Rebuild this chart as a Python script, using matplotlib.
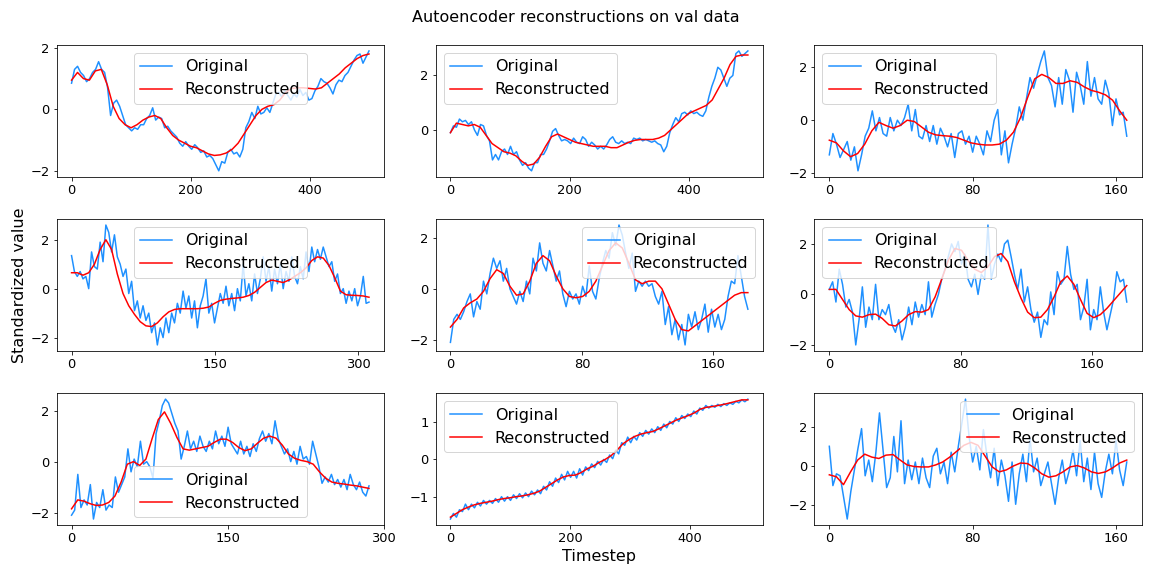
import numpy as np
import matplotlib
matplotlib.use("Agg")
import matplotlib.pyplot as plt

plt.rcParams['font.family'] = ['DejaVu Sans']

title = "Autoencoder reconstructions on val data"
xlabel = "Timestep"
ylabel = "Standardized value"
labels = ["Original", "Reconstructed"]

# last timestep of each panel
ends = [499, 499, 166, 311, 181, 181, 286, 497, 166]

orig1 = [0.85, 1.3, 1.4, 1.2, 1.1, 0.9, 1.0, 1.2, 1.3, 1.55, 1.3, 1.2, 0.7, -0.2, 0.2, 0.3, 0.1, -0.2, -0.5, -0.6,
         -0.7, -0.6, -0.65, -0.5, -0.5, -0.3, -0.2, 0.05, -0.35, -0.25, -0.3, -0.6, -0.55, -0.7, -0.8, -0.9, -1.1, -1.2, -1.05, -1.2,
         -1.3, -1.15, -1.25, -1.4, -1.35, -1.55, -1.5, -1.6, -1.8, -2.0, -1.7, -1.75, -1.4, -1.3, -1.45, -1.4, -1.55, -1.3, -0.6, -0.4,
         -0.1, -0.3, 0.1, -0.15, -0.1, 0.05, -0.1, 0.2, 0.5, 0.55, 0.4, 0.6, 0.45, 0.3, 0.5, 0.4, 0.65, 0.45, 0.55, 0.3,
         0.35, 0.6, 0.75, 1.0, 0.9, 0.85, 0.7, 0.5, 0.8, 0.95, 0.9, 1.1, 1.2, 1.4, 1.6, 1.75, 1.8, 1.5, 1.7, 1.9]
rec1 = [0.95, 1.2, 1.0, 0.95, 1.25, 1.3, 0.8, 0.1, -0.3, -0.5, -0.6, -0.5, -0.35, -0.25, -0.2, -0.3, -0.6, -0.85, -1.0, -1.1,
        -1.2, -1.25, -1.35, -1.45, -1.5, -1.48, -1.42, -1.3, -1.1, -0.8, -0.5, -0.2, 0.0, 0.1, 0.15, 0.3, 0.55, 0.68, 0.7, 0.7,
        0.68, 0.66, 0.7, 0.85, 1.0, 1.15, 1.35, 1.5, 1.65, 1.75, 1.8]

orig2 = [-0.1, 0.15, 0.1, 0.4, 0.3, 0.35, 0.2, 0.3, 0.0, -0.2, 0.2, 0.15, -0.2, -0.4, -1.1, -0.9, -1.1, -0.8, -0.7, -0.9,
         -0.6, -0.9, -0.8, -1.1, -1.3, -1.2, -1.4, -1.5, -1.2, -1.2, -0.9, -0.9, -0.7, -0.4, -0.05, 0.05, -0.2, -0.4, -0.35, -0.4,
         -0.5, -0.3, -0.45, -0.5, -0.25, -0.35, -0.6, -0.45, -0.55, -0.7, -0.6, -0.7, -0.55, -0.35, -0.25, -0.45, -0.5, -0.4, -0.5, -0.45,
         -0.5, -0.3, -0.35, -0.3, -0.4, -0.35, -0.4, -0.45, -0.4, -0.5, -0.55, -0.8, -0.6, -0.1, 0.2, 0.45, 0.3, 0.6, 0.65, 0.55,
         0.7, 0.6, 0.65, 0.55, 0.5, 0.7, 1.2, 1.6, 1.9, 2.3, 2.2, 1.9, 1.6, 1.9, 2.0, 2.8, 2.9, 2.7, 2.8, 2.9]
rec2 = [-0.1, 0.25, 0.2, 0.15, 0.2, 0.1, -0.2, -0.5, -0.65, -0.8, -0.85, -0.95, -1.15, -1.3, -1.25, -1.0, -0.6, -0.25, -0.15, -0.25,
        -0.35, -0.45, -0.5, -0.55, -0.6, -0.6, -0.6, -0.65, -0.65, -0.55, -0.45, -0.38, -0.35, -0.35, -0.35, -0.3, -0.2, 0.0, 0.2, 0.4,
        0.6, 0.7, 0.8, 0.9, 1.1, 1.5, 1.9, 2.4, 2.7, 2.75, 2.75]

orig3 = [-1.3, -0.5, -0.9, -1.4, -1.1, -0.8, -1.5, -1.0, -1.9, -1.3, -0.6, -0.3, 0.35, -0.4, 0.1, -0.5, -0.6, 0.1, -0.4, 0.0,
         -0.2, 0.1, 0.6, -0.4, 0.4, -0.6, -0.7, -0.2, -0.8, -0.2, -0.9, -0.3, -0.6, -1.0, -0.5, -1.4, -0.5, -0.4, -0.9, -0.6,
         -1.2, -0.6, -0.9, -1.3, -0.4, -0.8, 0.0, 0.4, -1.3, -0.4, -1.6, -0.9, -0.3, 0.5, 0.0, 0.8, 1.6, 1.2, 1.7, 2.2,
         2.6, 1.6, 1.3, 0.5, 1.6, 0.6, 1.9, 1.5, 0.3, 1.8, 1.3, 0.6, 2.2, 0.9, 1.6, 0.8, 0.6, 1.5, 1.0, -0.2,
         0.8, 0.2, 0.3, -0.6]
rec3 = [-0.75, -0.85, -1.15, -1.37, -1.25, -0.9, -0.4, -0.08, -0.2, -0.3, -0.2, 0.0, -0.05, -0.25, -0.45, -0.55, -0.58, -0.6, -0.65, -0.75,
        -0.85, -0.9, -0.93, -0.93, -0.9, -0.75, -0.45, 0.1, 0.85, 1.55, 1.72, 1.6, 1.38, 1.38, 1.48, 1.42, 1.25, 1.12, 1.05, 0.95,
        0.75, 0.35, 0.0]

orig4 = [1.35, 0.7, 0.5, 0.7, 0.4, 0.5, 0.0, 1.5, 0.9, 0.8, 1.9, 1.1, 2.6, 2.3, 1.5, 2.2, 1.3, 1.0, 0.5, 0.8,
         -0.2, 0.3, -0.9, -0.5, -1.2, -0.7, -1.3, -1.0, -1.8, -1.4, -2.3, -1.6, -2.0, -1.2, -1.8, -1.0, -1.4, -0.6, -1.0, -0.1,
         -0.8, -0.3, -1.2, -0.5, -1.6, -0.7, -0.3, 0.4, -1.0, -0.6, -1.4, -0.8, -0.2, -0.6, 0.1, -0.7, -0.2, -0.9, 0.0, -0.5,
         1.0, -0.3, 0.2, -0.5, 0.6, -0.2, 0.4, 1.3, 0.3, 0.9, -0.1, 0.8, 0.2, 1.0, 0.0, 0.7, 0.3, 1.3, 0.5, 0.2,
         0.9, 0.4, 1.5, 0.7, 1.7, 1.1, 1.6, 1.2, 1.7, 1.3, 0.9, 1.1, 0.3, 0.6, -0.2, 0.0, -0.6, -0.1, -0.5, 0.0,
         -0.7, -0.3, 0.5, -0.6, -0.55]
rec4 = [0.65, 0.65, 0.55, 0.65, 1.0, 1.6, 2.0, 1.6, 0.6, -0.2, -0.7, -1.05, -1.35, -1.52, -1.55, -1.4, -1.15, -0.95, -0.85, -0.82,
        -0.82, -0.82, -0.82, -0.8, -0.75, -0.6, -0.48, -0.43, -0.4, -0.38, -0.35, -0.28, -0.15, 0.05, 0.25, 0.35, 0.3, 0.25, 0.35, 0.5,
        0.65, 0.85, 1.15, 1.3, 1.25, 0.95, 0.45, -0.1, -0.25, -0.27, -0.28, -0.3, -0.35]

orig5 = [-2.1, -1.2, -1.0, -1.2, -0.9, -0.5, -0.2, -1.1, -0.5, -0.8, 0.3, -0.2, 0.6, 1.2, 0.8, 1.1, 0.3, 0.8, 0.0, -0.3,
         -0.6, -0.1, -0.5, 0.3, -0.2, 1.2, 0.7, 1.8, 1.0, 0.7, 1.5, 0.9, 0.3, 0.7, -0.2, -0.7, -0.1, -0.4, -0.2, -0.6,
         0.1, -0.3, 0.9, -0.1, -0.4, 0.4, 1.0, 1.5, 1.2, 2.2, 1.7, 2.5, 2.1, 1.4, 0.8, 1.4, -0.1, 0.3, 0.1, 0.3,
         0.1, 0.2, -0.3, -0.6, -0.1, -1.4, -0.7, -1.8, -1.2, -2.0, -1.4, -2.2, -1.0, -1.5, -0.9, -1.6, -1.2, -0.6, -1.7, -0.8,
         -1.5, -1.0, -1.6, -1.2, -0.3, 0.3, 0.2, 1.3, 0.5, -0.3, -0.8]
rec5 = [-1.5, -1.2, -0.75, -0.55, -0.4, -0.1, 0.4, 0.75, 0.6, 0.1, -0.25, -0.2, 0.3, 1.0, 1.3, 1.1, 0.5, 0.0, -0.3, -0.35,
        -0.3, -0.1, 0.3, 0.9, 1.5, 1.8, 1.6, 1.0, 0.35, 0.2, 0.3, 0.3, 0.0, -0.6, -1.2, -1.6, -1.65, -1.45, -1.25, -1.05,
        -0.85, -0.65, -0.45, -0.25, -0.15, -0.15]

orig6 = [0.2, 0.5, -0.3, 1.0, 0.4, -0.5, -0.2, -0.7, -2.0, -1.0, 0.3, -1.3, -0.5, -1.0, 0.4, -1.0, -0.6, -0.8, -0.4, -1.2,
         -1.5, -1.0, -1.8, -1.3, -0.5, -1.2, -0.3, -0.9, -0.4, -0.8, 0.5, -0.9, -0.4, 0.0, 0.6, 1.0, 1.5, 2.0, 1.7, 2.1,
         1.2, 1.6, 0.6, 0.3, 0.8, 0.0, 0.8, 0.6, 2.75, 0.6, 1.2, 1.6, 1.3, 2.0, 2.15, 1.5, 0.8, 0.2, 1.0, -0.3,
         0.3, -0.6, -1.1, -0.7, -1.7, -1.0, -1.2, 0.1, -0.8, 0.9, 0.4, 0.6, 1.9, 0.8, 0.2, 0.4, -1.0, -0.5, 0.6, -1.4,
         -0.6, -1.0, 0.3, -0.7, -1.4, -0.8, -0.2, 0.9, 0.5, 0.6, -0.3]
rec6 = [0.2, 0.2, -0.2, -0.6, -0.85, -0.9, -0.8, -0.78, -0.95, -1.2, -1.25, -1.05, -0.8, -0.68, -0.7, -0.6, -0.1, 0.6, 1.35, 1.82,
        1.75, 1.35, 1.0, 0.87, 1.1, 1.5, 1.62, 1.3, 0.5, -0.15, -0.7, -0.92, -0.9, -0.6, -0.1, 0.5, 0.73, 0.4, -0.2, -0.75,
        -0.92, -0.8, -0.55, -0.25, 0.05, 0.35]

orig7 = [-2.1, -1.9, -0.5, -1.8, -1.5, -1.7, -0.9, -2.25, -1.6, -1.8, -1.1, -1.9, -1.7, -1.8, -0.6, -1.2, -0.9, -0.6, 0.5, -0.4,
         0.1, -0.2, 0.8, -0.1, 0.0, -0.2, -0.65, 1.1, 1.6, 2.2, 2.45, 2.3, 1.9, 1.5, 1.2, 0.1, 0.6, 1.2, 0.5, 0.8,
         0.4, 1.0, 0.6, 0.4, 0.8, 0.5, 1.2, 0.7, 1.0, 0.6, 1.35, 0.7, 0.5, 0.3, 0.8, 0.3, 0.6, 0.2, 0.7, 0.4,
         0.9, 1.2, 0.8, 1.1, 0.7, 1.6, 0.9, 0.6, 0.3, 0.5, 0.0, 0.4, -0.1, 0.6, 0.1, 0.2, -0.1, 0.8, 0.3, -0.2,
         -0.85, -0.6, -0.8, -0.5, -0.9, -0.7, -1.0, -0.7, -1.1, -0.5, -0.9, -1.1, -0.8, -1.2, -1.35, -0.95]
rec7 = [-1.85, -1.5, -1.55, -1.65, -1.72, -1.7, -1.6, -1.35, -0.8, -0.1, 0.0, -0.15, 0.1, 0.9, 1.65, 1.95, 1.5, 0.95, 0.5, 0.45,
        0.5, 0.55, 0.6, 0.75, 0.88, 0.88, 0.75, 0.55, 0.43, 0.5, 0.72, 0.92, 1.0, 0.92, 0.65, 0.3, 0.13, 0.05, 0.0, -0.1,
        -0.4, -0.65, -0.8, -0.85, -0.88, -0.92, -0.95, -1.0, -1.05]

orig8 = [-1.6, -1.45, -1.55, -1.35, -1.4, -1.2, -1.35, -1.2, -1.3, -1.15, -1.25, -1.1, -1.2, -1.1, -1.18, -1.05, -1.15, -1.0, -1.12, -1.0,
         -1.1, -0.95, -1.05, -0.92, -1.03, -0.9, -1.0, -0.85, -0.95, -0.82, -0.92, -0.72, -0.82, -0.6, -0.72, -0.5, -0.62, -0.4, -0.55, -0.32,
         -0.48, -0.32, -0.5, -0.25, -0.42, -0.2, -0.3, -0.12, -0.22, -0.05, -0.15, 0.0, -0.08, 0.12, 0.02, 0.25, 0.15, 0.45, 0.38, 0.6,
         0.45, 0.62, 0.52, 0.72, 0.62, 0.78, 0.68, 0.82, 0.72, 0.88, 0.78, 0.95, 0.85, 1.02, 0.95, 1.12, 1.02, 1.18, 1.1, 1.22,
         1.15, 1.3, 1.22, 1.38, 1.32, 1.45, 1.38, 1.45, 1.4, 1.48, 1.42, 1.5, 1.45, 1.52, 1.48, 1.56, 1.52, 1.6, 1.55, 1.62]
rec8 = [-1.55, -1.45, -1.35, -1.28, -1.22, -1.18, -1.15, -1.12, -1.08, -1.05,
        -1.03, -1.0, -0.98, -0.95, -0.91, -0.85, -0.75, -0.65, -0.55, -0.47,
        -0.43, -0.42, -0.35, -0.25, -0.18, -0.08, 0.0, 0.1, 0.25, 0.42,
        0.53, 0.62, 0.68, 0.72, 0.75, 0.82, 0.9, 0.98, 1.06, 1.12,
        1.18, 1.25, 1.35, 1.4, 1.42, 1.45, 1.48, 1.52, 1.56, 1.6, 1.6]

orig9 = [1.0, -1.0, -0.4, -0.5, -1.6, -2.7, -1.3, -0.2, 0.9, 1.9, -0.5, 0.3, -0.8, 0.7, 2.7, 0.8, -1.1, -0.6, 1.5, -0.3,
         2.3, -0.9, 0.3, -0.7, 0.2, -0.9, 0.4, -0.6, -1.1, 0.5, 0.9, -0.4, 0.2, -0.9, 0.7, -0.3, 1.0, 2.2, 3.4, 1.5,
         0.2, 1.0, -0.2, 1.85, 0.5, -0.6, 0.9, -1.0, 0.3, -0.5, -1.8, 0.2, -1.95, -0.4, 0.6, -0.8, 1.4, -0.3, 0.4, -1.0,
         -0.4, 0.2, -0.9, -1.95, -0.6, 0.3, -0.9, -0.2, 0.8, -0.5, 1.3, -0.8, 0.4, -1.2, 0.7, -0.9, -1.6, -0.3, 0.6, -0.4,
         1.3, -0.2, -1.0, 0.2]
rec9 = [-0.45, -0.55, -0.95, -0.3, 0.3, 0.6, 0.45, 0.38, 0.55, 0.58, 0.3, 0.05, -0.03, -0.05, -0.05, 0.05, 0.2, 0.45, 0.75, 1.05,
        1.2, 1.05, 0.5, -0.05, -0.3, -0.2, 0.0, 0.15, 0.12, -0.1, -0.4, -0.57, -0.5, -0.3, -0.05, 0.02, -0.1, -0.3, -0.38, -0.3,
        -0.1, 0.15, 0.3]

originals = [orig1, orig2, orig3, orig4, orig5, orig6, orig7, orig8, orig9]
recons = [rec1, rec2, rec3, rec4, rec5, rec6, rec7, rec8, rec9]

xticks = [[0, 200, 400], [0, 200, 400], [0, 80, 160],
          [0, 150, 300], [0, 80, 160], [0, 80, 160],
          [0, 150, 300], [0, 200, 400], [0, 80, 160]]
yticks = [[-2, 0, 2], [0, 2], [-2, 0, 2],
          [-2, 0, 2], [-2, 0, 2], [-2, 0, 2],
          [-2, 0, 2], [-1, 0, 1], [-2, 0, 2]]
legend_locs = ['upper center', 'upper left', 'upper left',
               'upper center', 'upper right', 'upper left',
               'lower center', 'upper left', 'upper right']

fig, axes = plt.subplots(3, 3, figsize=(16, 8), dpi=72)
fig.subplots_adjust(left=0.0492, right=0.991, top=0.922, bottom=0.0885, wspace=0.158, hspace=0.32)

for i, ax in enumerate(axes.flat):
    o = np.array(originals[i])
    r = np.array(recons[i])
    xo = np.linspace(0, ends[i], len(o))
    xr = np.linspace(0, ends[i], len(r))
    ax.plot(xo, o, color='dodgerblue', lw=1.5, label=labels[0])
    ax.plot(xr, r, color='red', lw=1.5, label=labels[1])
    ax.set_xticks(xticks[i])
    ax.set_yticks(yticks[i])
    ax.tick_params(labelsize=13)
    ax.legend(loc=legend_locs[i], fontsize=16)

axes[2, 1].set_xlabel(xlabel, fontsize=16)
axes[1, 0].set_ylabel(ylabel, fontsize=16)
fig.suptitle(title, fontsize=16, y=0.969, va='center')

fig.savefig("out.png", dpi=72)
